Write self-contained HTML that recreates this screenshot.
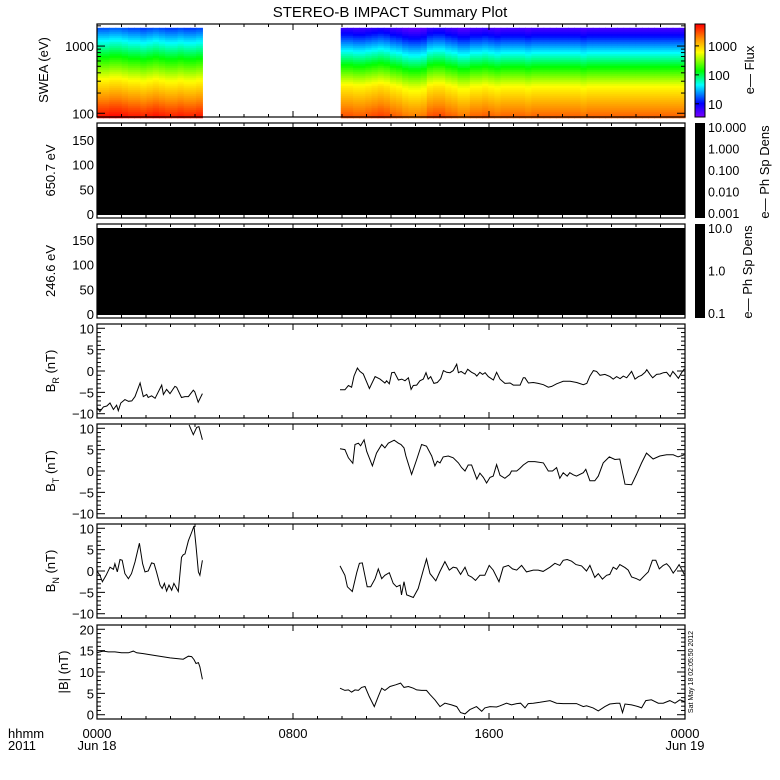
<!DOCTYPE html>
<html><head><meta charset="utf-8">
<style>
html,body{margin:0;padding:0;background:#fff;}
svg{display:block;font-family:"Liberation Sans",sans-serif;}
</style></head>
<body>
<svg id="chart" width="780" height="780" viewBox="0 0 780 780" xmlns="http://www.w3.org/2000/svg"></svg>
<script>
// ---- data ----
const hourTicks = [0,1,2,3,4,5,6,7,8,9,10,11,12,13,14,15,16,17,18,19,20,21,22,23,24];
const hourLabels = ["0000","0800","1600","0000"];
const hourLabelPos = [0,8,16,24];
const dateLabels = ["Jun 18","","","Jun 19"];

const brT1 = [0.01,0.12,0.26,0.40,0.53,0.67,0.80,0.87,0.97,1.14,1.28,1.42,1.55,1.76,1.89,2.03,2.09,2.23,2.37,2.64,2.71,2.84,2.98,3.18,3.25,3.45,3.59,3.73,3.93,3.99,4.13,4.30];
const brV1 = [-8.6,-9.5,-8.4,-8.2,-7.5,-9,-8,-9.3,-7.5,-6.7,-7.1,-7,-6,-2.8,-6,-5.5,-6.2,-5.8,-6.4,-3.3,-5.5,-4.3,-5.3,-3.6,-3.8,-6.2,-6,-6,-4.5,-4.9,-7.3,-5.3];
const brT2 = [9.92,10.12,10.26,10.39,10.49,10.63,10.73,10.87,11.12,11.35,11.55,11.75,11.82,11.93,12.03,12.14,12.30,12.44,12.57,12.71,12.82,12.91,13.05,13.18,13.32,13.43,13.52,13.62,13.75,13.89,14.03,14.14,14.27,14.41,14.54,14.68,14.75,14.86,15.02,15.13,15.29,15.43,15.50,15.63,15.74,15.84,15.97,16.18,16.31,16.45,16.65,16.86,16.99,17.27,17.40,17.47,17.61,17.81,18.01,18.22,18.42,18.56,18.76,19.03,19.31,19.58,19.85,19.99,20.12,20.26,20.39,20.53,20.73,20.94,21.07,21.21,21.35,21.48,21.62,21.82,21.96,22.10,22.23,22.37,22.44,22.57,22.68,22.84,22.98,23.12,23.25,23.39,23.50,23.59,23.73,23.86,23.97];
const brV2 = [-4.4,-4.4,-3.4,-3.8,-1.2,0.7,-0.1,-0.7,-4.1,-1.3,-1.9,-2.8,-2.3,-3.0,-0.4,-0.3,-2.1,-1.9,-2.3,-1.6,-4.3,-3.4,-3.3,-2.3,-1.9,-0.4,-1.9,-1.3,-2.9,-2.7,-1.8,0.1,-0.3,-0.4,0.1,1.6,-0.4,-0.1,-0.7,0.4,-0.3,-0.7,-1.2,-0.3,-0.8,-0.4,-1.3,-2.1,-0.3,-1.9,-2.9,-2.8,-3.3,-3.3,-1.6,-1.6,-2.8,-2.7,-2.9,-3.2,-3.8,-3.6,-3.0,-2.4,-2.4,-2.7,-3.2,-2.9,-1.2,0.1,-0.1,-1.0,-0.8,-1.3,-1.9,-1.3,-1.8,-1.2,-1.6,-0.1,-1.9,-1.3,-1.0,-0.3,0.3,-0.8,-1.6,-0.8,-0.7,-0.4,-0.3,-1.3,-0.1,-0.7,-1.7,-0.4,0.5];

const btT1 = [3.76,3.93,4.07,4.16,4.30];
const btV1 = [10.8,8.5,10.2,10.4,7.3];
const btT2 = [9.92,10.12,10.26,10.44,10.53,10.67,10.76,10.90,11.01,11.24,11.41,11.62,11.75,11.89,12.13,12.30,12.41,12.53,12.61,12.84,13.05,13.25,13.45,13.66,13.79,13.89,14.00,14.13,14.34,14.54,14.75,14.88,15.02,15.15,15.29,15.50,15.63,15.77,15.90,16.04,16.17,16.31,16.45,16.65,16.85,16.92,17.13,17.26,17.40,17.60,17.87,18.22,18.42,18.59,18.76,18.89,19.03,19.19,19.30,19.44,19.57,19.85,19.95,20.12,20.32,20.46,20.66,20.91,21.14,21.34,21.55,21.82,22.02,22.23,22.43,22.70,22.97,23.25,23.52,23.72,23.97];
const btV2 = [5.2,5.0,3.1,1.8,6.2,6.5,5.9,7.3,4.6,1.2,4.2,6.2,5.4,6.5,7.2,6.5,6.2,5.4,3.5,-0.8,2.7,6.2,5.8,3.5,1.2,2.3,1.9,3.3,3.5,3.1,1.9,0.8,0,1.4,1.4,-1.9,-0.5,-1.5,-2.8,-1.5,-1.2,1.5,-1.0,-1.7,-0.8,0,0,0.6,1.4,2.2,2.2,1.9,0,0,0.8,-1.7,-0.4,-1.2,-0.4,-0.9,-1.2,-0.4,0.4,-2.3,-2.3,-1.2,1.9,3.3,2.7,2.8,-3.1,-3.2,-0.8,1.9,4.2,2.8,3.5,3.8,3.8,3.3,3.8];

const bnT1 = [0,0.12,0.22,0.37,0.53,0.67,0.73,0.83,0.94,1.03,1.14,1.28,1.41,1.55,1.73,1.86,1.96,2.09,2.23,2.33,2.43,2.57,2.66,2.75,2.84,2.94,3.05,3.14,3.32,3.45,3.52,3.59,3.73,3.86,3.96,4.04,4.14,4.20,4.30];
const bnV1 = [0,-1,-2.5,-1,0.9,0.4,1.7,-0.2,2.7,2.5,-0.6,-1.8,-0.6,2.1,6.5,1.7,-0.2,0,1.9,1.7,-0.2,-3.3,-4.1,-2.9,-4.7,-3.3,-4.5,-2.9,-4.8,3.2,3.8,4,7.1,9,10.5,5.9,-0.2,-1,2.5];
const bnT2 = [9.92,10.12,10.22,10.42,10.60,10.71,10.83,11.03,11.17,11.35,11.48,11.62,11.75,11.93,12.09,12.23,12.37,12.43,12.53,12.64,12.91,13.11,13.32,13.45,13.59,13.83,14.00,14.20,14.38,14.54,14.68,14.84,15.02,15.15,15.29,15.45,15.63,15.83,16.01,16.17,16.41,16.58,16.79,16.96,17.13,17.33,17.53,17.81,18.01,18.21,18.49,18.69,18.89,19.03,19.19,19.37,19.55,19.78,19.98,20.12,20.32,20.46,20.63,20.80,20.93,21.07,21.21,21.34,21.55,21.68,21.82,22.02,22.16,22.36,22.50,22.67,22.81,22.95,23.11,23.25,23.38,23.52,23.65,23.76,23.86,23.97];
const bnV2 = [1.2,-1.0,-3.7,-4.8,-0.4,1.8,1.9,-3.7,-3.7,-1.8,0.5,-1.8,-1.0,-0.4,-2.9,-3.7,-3.3,-5.6,-2.5,-5.6,-6.2,-4.1,0.2,2.8,-0.6,-2.3,-0.1,2.2,0.2,0.9,0.7,-0.8,0.9,-1.0,-1.4,-2.2,-1.0,-1.0,1.3,0.2,-2.5,0.9,1.3,0.5,0.2,1.3,-0.2,0.2,0.2,-0.1,0.9,1.8,1.3,2.5,2.7,2.3,1.5,1.2,0,1.3,-1.5,-0.6,-1.9,-1.0,-0.8,0.9,0.4,1.5,0.8,0.2,-1.4,-1.8,-2.2,-1.0,-0.2,2.5,2.5,0.5,1.3,1.7,0.9,-0.5,0.5,1.5,0.4,-0.8];

const bmT1 = [0,0.12,0.26,0.46,0.73,1.0,1.28,1.48,1.62,1.89,2.43,2.98,3.52,3.73,3.86,3.96,4.04,4.14,4.20,4.30];
const bmV1 = [14.5,14.7,14.9,14.7,14.7,14.5,14.5,14.9,14.5,14.3,13.8,13.3,13.0,13.7,13.6,12.9,12.0,12.2,11.2,8.3];
const bmT2 = [9.92,10.12,10.26,10.39,10.53,10.67,10.80,10.94,11.11,11.32,11.48,11.62,11.75,11.96,12.19,12.39,12.53,12.71,12.91,13.05,13.25,13.45,13.59,13.79,14.00,14.20,14.47,14.68,14.84,15.02,15.22,15.49,15.70,15.83,16.04,16.31,16.45,16.72,16.92,17.13,17.29,17.47,17.60,17.81,18.08,18.49,18.76,19.03,19.57,19.85,19.98,20.25,20.46,20.73,20.93,21.21,21.34,21.45,21.55,21.82,22.09,22.23,22.40,22.63,22.91,23.11,23.38,23.59,23.79,23.97];
const bmV2 = [6.2,5.7,5.8,5.3,5.8,5.7,6.4,6.6,4.3,1.9,4.3,6.2,5.7,6.6,7.0,7.4,6.4,6.6,6.2,5.8,5.7,5.7,4.7,3.5,1.9,2.7,2.3,1.9,0.5,0.2,1.2,1.9,0.8,1.6,1.9,1.8,2.1,2.7,2.3,2.6,2.7,1.6,2.6,2.7,2.9,3.3,2.7,2.6,2.6,1.9,2.1,1.6,0.9,1.9,2.5,2.7,2.7,0.5,2.5,2.3,1.9,1.6,3.3,3.5,2.7,2.7,3.3,2.7,3.5,3.1];

// spectrogram: data segments (hours); flux colour level at anchor energies (log10 eV); per-column offsets
const sweaStart = [0, 9.95];
const sweaEnd = [4.3, 24];
const sweaAnchorLogE = [[1.944,2.49,3.06,3.27],[1.944,2.40,2.90,3.27]];
const sweaAnchorLevel = [[0.98,0.7,0.35,0.2],[0.9,0.7,0.35,0.06]];
const sweaLeftShift = [0.01,0.01,0.02,0.02,0.01,0.0,0.0,-0.01,0.0,0.01,0.0,-0.01,-0.01,0.0,-0.01,-0.01,0.0];
const sweaRightShift = [0.02,0.02,0.01,0.01,0.02,0.03,0.04,0.03,0.01,0.0,-0.02,-0.03,-0.03,-0.02,0.02,0.03,0.03,0.01,0.0,-0.02,-0.02,0.0,0.0,0.01,0.0,-0.01,0.0,0.0,0.0,0.0,-0.01,0.0,0.0,0.0,0.0,0.0,0.0,0.0,0.0,-0.01,0.0,0.0,0.0,0.0,0.0,0.0,0.0,0.0,0.0,0.0,0.0,0.0,0.0,0.0,0.0,0.0];
const sweaTicks = [100,200,300,400,500,600,700,800,900,1000,2000];
const sweaLabels = [100,1000];
const fluxLabels = ["1000","100","10"];
const fluxLabelVals = [1000,100,10];
const psd1Labels = ["10.000","1.000","0.100","0.010","0.001"];
const psd1Vals = [10,1,0.1,0.01,0.001];
const psd2Labels = ["10.0","1.0","0.1"];
const psd2Vals = [10,1,0.1];
const pitchTicks = [0,50,100,150];

// ---- drawing ----
const svg = document.getElementById('chart');
const NS = 'http://www.w3.org/2000/svg';
function mk(tag, attrs, parent){
  const e = document.createElementNS(NS, tag);
  for (const k in attrs) e.setAttribute(k, attrs[k]);
  (parent||svg).appendChild(e);
  return e;
}
const X0 = 97, X1 = 685;
function xs(h){ return X0 + (X1 - X0) * h / 24; }
function lin(v, vmin, vmax, top, bot){ return bot - (v - vmin) / (vmax - vmin) * (bot - top); }

let el;
el = mk('text',{x:390,y:17,'text-anchor':'middle','font-size':15,fill:'#000'});
el.textContent = 'STEREO-B IMPACT Summary Plot';



function rainbow(l){
  l = Math.max(0, Math.min(1, l));
  const st = [[0,128,0,255],[0.15,0,0,255],[0.35,0,255,255],[0.5,0,255,0],[0.7,255,255,0],[0.85,255,140,0],[1,255,0,0]];
  for (let i=1;i<st.length;i++){
    if (l <= st[i][0]){
      const a = st[i-1], b = st[i], f = (l-a[0])/(b[0]-a[0]);
      return 'rgb(' + [1,2,3].map(j=>Math.round(a[j]+(b[j]-a[j])*f)).join(',') + ')';
    }
  }
  return 'rgb(255,0,0)';
}
function interp(xArr, yArr, x){
  if (x <= xArr[0]) return yArr[0];
  for (let i=1;i<xArr.length;i++){
    if (x <= xArr[i]) return yArr[i-1] + (yArr[i]-yArr[i-1])*(x-xArr[i-1])/(xArr[i]-xArr[i-1]);
  }
  return yArr[yArr.length-1];
}

// --- SWEA spectrogram panel ---
const P1 = {top:24, bot:117, emin:88, emax:2130};
function ys(E){ return P1.bot - (Math.log10(E)-Math.log10(P1.emin))/(Math.log10(P1.emax)-Math.log10(P1.emin))*(P1.bot-P1.top); }
const spec = mk('g',{});


const dataTopE = 1870;
[sweaLeftShift, sweaRightShift].forEach((shifts, si) => {
  const t0 = sweaStart[si], t1 = sweaEnd[si], n = shifts.length;
  for (let c=0;c<n;c++){
    const xa = xs(t0 + (t1-t0)*c/n), xb = xs(t0 + (t1-t0)*(c+1)/n);
    const yTop = ys(dataTopE);
    for (let y=yTop; y<P1.bot; y+=2){
      const logE = Math.log10(P1.emin) + (P1.bot - (y+1))/(P1.bot-P1.top)*(Math.log10(P1.emax)-Math.log10(P1.emin));
      const lvl = interp(sweaAnchorLogE[si], sweaAnchorLevel[si], logE) + shifts[c];
      const r = mk('rect',{x:xa.toFixed(2),y:y.toFixed(2),width:(xb-xa+0.6).toFixed(2),height:2.5,fill:rainbow(lvl)},spec);
      
      
    }
  }
});

function frame(top, bot, name){
  const r = mk('rect',{x:X0,y:top,width:X1-X0,height:bot-top,fill:'none',stroke:'#000','stroke-width':1.2});
  
  
}
function xTicks(top, bot){
  hourTicks.forEach(h => {
    const x = xs(h), L = (h%8===0) ? 6 : 3;
    const a = mk('line',{x1:x,y1:bot,x2:x,y2:bot-L,stroke:'#000'});
    
    
    const b = mk('line',{x1:x,y1:top,x2:x,y2:top+L,stroke:'#000'});
    
    
  });
}
function yTick(y, L){
  const a = mk('line',{x1:X0,y1:y,x2:X0+L,y2:y,stroke:'#000'});
  
  
  const b = mk('line',{x1:X1,y1:y,x2:X1-L,y2:y,stroke:'#000'});
  
  
}
function yLabel(y, txt){
  const t = mk('text',{x:X0-3,y:y+5,'text-anchor':'end','font-size':13,fill:'#000'});
  t.textContent = txt;
  
  
}
function vText(x, y, txt, name, size){
  const t = mk('text',{x:x,y:y,'text-anchor':'middle','font-size':size||13,fill:'#000',transform:'rotate(-90 '+x+' '+y+')'});
  t.textContent = txt;
  
  
  return t;
}

frame(P1.top, P1.bot, 'swea-panel-frame');
xTicks(P1.top, P1.bot);
sweaTicks.forEach(E => yTick(ys(E), (E===100||E===1000)?8:4));
sweaLabels.forEach(E => yLabel(ys(E), String(E)));
vText(48, 70, 'SWEA (eV)', 'swea-y-axis-title');

// colorbar 1
const cb1 = mk('g',{});


for (let y=24; y<117; y++){
  const r = mk('rect',{x:695,y:y,width:10,height:1.2,fill:rainbow((117-y)/93)},cb1);
  
  
}
el = mk('rect',{x:695,y:24,width:10,height:93,fill:'none',stroke:'#000'});


function cbY1(v){ return 117 - (Math.log10(v)-Math.log10(3.5))/(Math.log10(5700)-Math.log10(3.5))*93; }
fluxLabelVals.forEach((v,i) => {
  const t = mk('text',{x:708,y:cbY1(v)+5,'font-size':13,fill:'#000'});
  t.textContent = fluxLabels[i];
  
  
  const l = mk('line',{x1:695,y1:cbY1(v),x2:699,y2:cbY1(v),stroke:'#000'});
  
  
});
vText(754, 70, 'e\u2014 Flux', 'flux-colorbar-title');

// pitch-angle panels
function pitchPanel(top, bot, blackTop, blackBot, zeroY, y150, title, name, cbLabels, cbVals, cbName, cbTitleX, cbTitleY){
  const b = mk('rect',{x:X0,y:blackTop,width:X1-X0,height:blackBot-blackTop,fill:'#000'});
  
  
  frame(top, bot, name + '-frame');
  xTicks(top, bot);
  pitchTicks.forEach(p => {
    const y = zeroY + (y150-zeroY)*p/150;
    yLabel(y, String(p));
  });
  vText(55, (top+bot)/2, title, name + '-y-axis-title');
  const c = mk('rect',{x:695,y:top,width:10,height:bot-top,fill:'#000'});
  
  
  const lmax = Math.log10(cbVals[0]), lmin = Math.log10(cbVals[cbVals.length-1]);
  cbVals.forEach((v,i) => {
    const y = top+5 + (lmax-Math.log10(v))/(lmax-lmin)*(bot-top-9);
    const t = mk('text',{x:708,y:y+4,'font-size':12.5,fill:'#000'});
    t.textContent = cbLabels[i];
    
    
  });
  vText(cbTitleX, cbTitleY, 'e\u2014 Ph Sp Dens', cbName + '-title');
}
pitchPanel(123, 218, 127, 215, 214, 140, '650.7 eV', 'pad-650-panel', psd1Labels, psd1Vals, 'psd-colorbar-650', 769, 172);
pitchPanel(224, 318, 228, 315, 314, 240, '246.6 eV', 'pad-246-panel', psd2Labels, psd2Vals, 'psd-colorbar-246', 752, 272);

// magnetic field line panels
function linePanel(top, bot, vmin, vmax, major, labels, title, name, segs){
  frame(top, bot, name + '-frame');
  xTicks(top, bot);
  for (let v=Math.ceil(vmin); v<=vmax; v++){
    yTick(lin(v,vmin,vmax,top,bot), v%major===0 ? 8 : 4);
  }
  labels.forEach(v => yLabel(lin(v,vmin,vmax,top,bot), v<0 ? '\u2212'+(-v) : String(v)));
  segs.forEach(([T,V], k) => {
    const n = Math.min(T.length, V.length);
    const pts = [];
    for (let i=0;i<n;i++) pts.push(xs(T[i]).toFixed(1)+','+Math.max(top, lin(V[i],vmin,vmax,top,bot)).toFixed(1));
    const p = mk('polyline',{points:pts.join(' '),fill:'none',stroke:'#000','stroke-width':1});
    
    
  });
  return (top+bot)/2;
}
let cy;
cy = linePanel(324, 418, -11, 11, 5, [10,5,0,-5,-10], 'BR', 'br-panel', [[brT1,brV1],[brT2,brV2]]);
el = mk('text',{x:55,y:cy,'text-anchor':'middle','font-size':13,transform:'rotate(-90 55 '+cy+')'});
el.innerHTML = 'B<tspan font-size="9" dy="4">R</tspan><tspan dy="-4"> (nT)</tspan>';


cy = linePanel(424, 518, -11, 11, 5, [10,5,0,-5,-10], 'BT', 'bt-panel', [[btT1,btV1],[btT2,btV2]]);
el = mk('text',{x:55,y:cy,'text-anchor':'middle','font-size':13,transform:'rotate(-90 55 '+cy+')'});
el.innerHTML = 'B<tspan font-size="9" dy="4">T</tspan><tspan dy="-4"> (nT)</tspan>';


cy = linePanel(524, 618, -11, 11, 5, [10,5,0,-5,-10], 'BN', 'bn-panel', [[bnT1,bnV1],[bnT2,bnV2]]);
el = mk('text',{x:55,y:cy,'text-anchor':'middle','font-size':13,transform:'rotate(-90 55 '+cy+')'});
el.innerHTML = 'B<tspan font-size="9" dy="4">N</tspan><tspan dy="-4"> (nT)</tspan>';


cy = linePanel(625, 719, -1, 21, 5, [20,15,10,5,0], '|B|', 'bmag-panel', [[bmT1,bmV1],[bmT2,bmV2]]);
vText(68, cy, '|B| (nT)', 'bmag-y-axis-title');

// timestamp
el = vText(693, 672, 'Sat May 18 02:05:50 2012', 'timestamp', 7);

// x-axis labels
el = mk('text',{x:8,y:738,'font-size':13,fill:'#000'});
el.textContent = 'hhmm';


el = mk('text',{x:8,y:750,'font-size':13,fill:'#000'});
el.textContent = '2011';


hourLabelPos.forEach((h,i) => {
  const t = mk('text',{x:xs(h),y:738,'text-anchor':'middle','font-size':13,fill:'#000'});
  t.textContent = hourLabels[i];
  
  
  if (dateLabels[i]){
    const d = mk('text',{x:xs(h),y:750,'text-anchor':'middle','font-size':13,fill:'#000'});
    d.textContent = dateLabels[i];
    
    
  }
});
</script>
</body></html>
